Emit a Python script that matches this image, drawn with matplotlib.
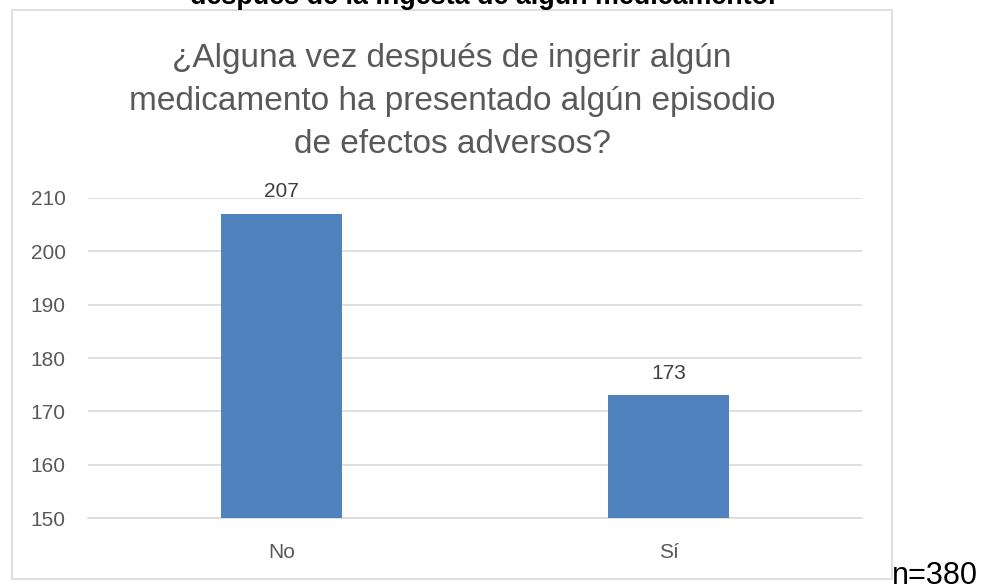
import matplotlib.pyplot as plt
from matplotlib.patches import Rectangle

categories = ["No", "Sí"]
values = [207, 173]
yticks = [150, 160, 170, 180, 190, 200, 210]

title_lines = ["¿Alguna vez después de ingerir algún",
               "medicamento ha presentado algún episodio",
               "de efectos adversos?"]
caption_top = "después de la ingesta de algún medicamento."
note = "n=380"

W, H = 984, 588
fig = plt.figure(figsize=(W / 100, H / 100), dpi=100)
plt.rcParams['font.family'] = ['Liberation Sans', 'DejaVu Sans']

# plot area (pixel positions measured on the reference)
left, right, top, bottom = 88, 862, 198, 518
ax = fig.add_axes([left / W, 1 - bottom / H, (right - left) / W, (bottom - top) / H])

x = range(len(categories))
bars = ax.bar(x, values, width=0.315, color='#4F81BD', zorder=3)
ax.set_xlim(-0.5, len(categories) - 0.5)
ax.set_ylim(yticks[0], yticks[-1])
ax.set_yticks(yticks)
ax.set_xticks(list(x))
ax.set_xticklabels(categories)
ax.yaxis.grid(True, color='#D9D9D9', linewidth=1.2, zorder=0)
for s in ax.spines.values():
    s.set_visible(False)
ax.spines['bottom'].set_visible(True)
ax.spines['bottom'].set_color('#D9D9D9')
ax.spines['bottom'].set_linewidth(1.2)
ax.tick_params(length=0, labelsize=15, labelcolor='#595959')
ax.tick_params(axis='y', pad=16)
ax.tick_params(axis='x', pad=18)

for b, v in zip(bars, values):
    ax.annotate(str(v), (b.get_x() + b.get_width() / 2, v), xytext=(0, 12),
                textcoords='offset points', ha='center', va='baseline',
                fontsize=15, color='#404040')

# chart frame
fig.patches.append(Rectangle((12 / W, 1 - 579 / H), (892 - 12) / W, (579 - 10) / H,
                             transform=fig.transFigure, fill=False,
                             edgecolor='#D9D9D9', linewidth=1.2))

# title, one line at a time (baselines from the reference)
for i, line in enumerate(title_lines):
    fig.text(452 / W, 1 - (67 + 43 * i) / H, line, ha='center', va='baseline',
             fontsize=24, color='#595959')

fig.text(483 / W, 1 - 4 / H, caption_top, ha='center', va='baseline',
         fontsize=19.4, fontweight='bold', color='black')
fig.text(892 / W, 1 - 584 / H, note, ha='left', va='baseline', fontsize=22,
         color='black')

fig.savefig('out.png', dpi=100)
